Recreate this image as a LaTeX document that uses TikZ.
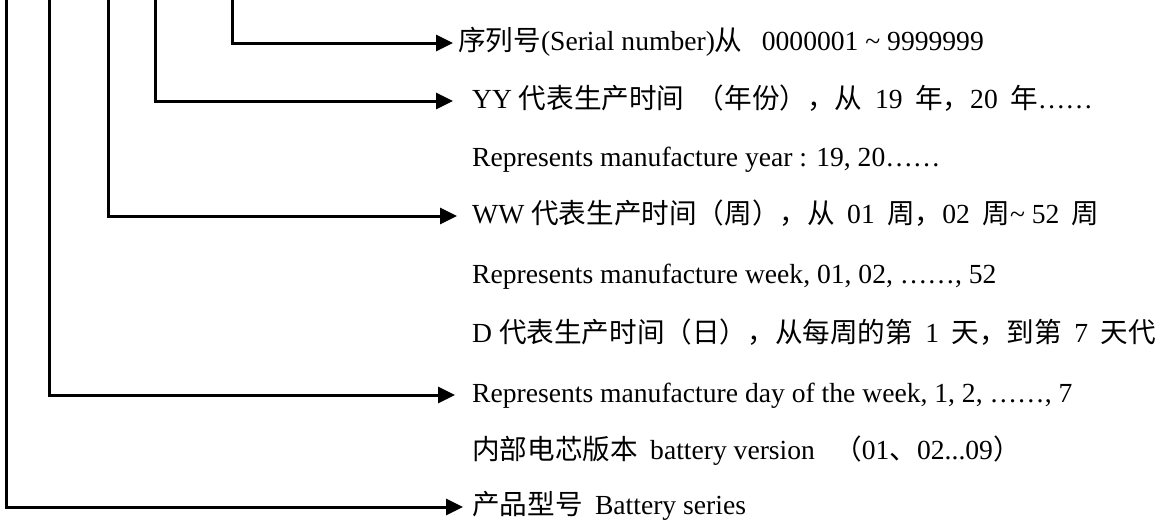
\documentclass[tikz,border=0pt]{standalone}
\usepackage{fontspec}
\setmainfont{Liberation Serif}
\newfontfamily\cjk{Noto Sans CJK SC}
\usepackage{tikz}
\usetikzlibrary{positioning,arrows.meta}
\newcommand\zh[1]{{\cjk #1}}
\newcommand\zsp{\hspace{0.45em}}

\begin{document}
\begin{tikzpicture}[
            x=1pt, y=-1pt,
            % Style for the text rows
            row/.style={
                anchor=west,
                inner sep=0pt,
                text height=20pt,
                text depth=6pt,
                text=black,
                font=\fontsize{27.6}{30}\selectfont
            },
            % Style for the bent leads
            lead/.style={
                -{Triangle[length=17pt,width=16pt]},
                line width=3pt,
                line join=miter,
                shorten >=#1
            }
        ]
            \useasboundingbox (0,0) rectangle (1164,530);

            % ROWS OF TEXT
            \node[row] (sn)   at (458,43)  {\zh{序列号}(Serial number)\zh{从}\zsp\ 0000001 \textasciitilde\ 9999999};
            \node[row] (yy)   at (472,101) {YY \zh{代表生产时间}\zsp\zh{（年份），从}\zsp 19\zsp\zh{年，}20\zsp\zh{年}……};
            \node[row] (yyEn) at (472,159) {Represents manufacture year : 19, 20……};
            \node[row] (ww)   at (472,216) {WW \zh{代表生产时间（周），从}\zsp 01\zsp\zh{周，}02\zsp\zh{周}\textasciitilde\ 52\zsp\zh{周}};
            \node[row] (wwEn) at (472,276) {Represents manufacture week, 01, 02, ……, 52};
            \node[row] (dd)   at (472,335) {D \zh{代表生产时间（日），从每周的第}\zsp 1\zsp\zh{天，到第}\zsp 7\zsp\zh{天代}};
            \node[row] (ddEn) at (472,395) {Represents manufacture day of the week, 1, 2, ……, 7};
            \node[row] (ver)  at (472,452) {\zh{内部电芯版本}\zsp battery version\zsp\ \zh{（}01\zh{、}02...09\zh{）}};
            \node[row] (ser)  at (472,507) {\zh{产品型号}\zsp Battery series};

            % TOP ENDS OF THE LEADS
            \coordinate (tSn)  at (232,-2);
            \coordinate (tYY)  at (155,-2);
            \coordinate (tWW)  at (108,-2);
            \coordinate (tDD)  at (49,-2);
            \coordinate (tSer) at (6,-2);

            % LEADS: down, then right to each row
            \draw[lead=5pt]  (tSn)  |- (sn.west);
            \draw[lead=19pt] (tYY)  |- (yy.west);
            \draw[lead=15pt] (tWW)  |- (ww.west);
            \draw[lead=17pt] (tDD)  |- (ddEn.west);
            \draw[lead=9pt]  (tSer) |- (ser.west);

        \end{tikzpicture}
\end{document}
